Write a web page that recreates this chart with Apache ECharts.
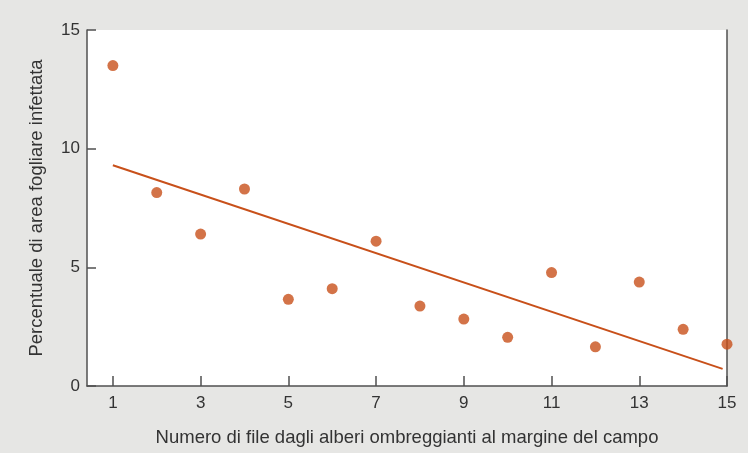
<!DOCTYPE html>
<html><head><meta charset="utf-8">
<script src="https://cdn.jsdelivr.net/npm/echarts@6/dist/echarts.min.js"></script>
<style>html,body{margin:0;padding:0;background:#e6e6e4;}#c{width:748px;height:453px;}</style>
</head><body><div id="c"></div>
<script>
const rows = [1,2,3,4,5,6,7,8,9,10,11,12,13,14,15];
const infected = [13.5,8.15,6.4,8.3,3.65,4.1,6.1,3.37,2.82,2.05,4.78,1.65,4.38,2.39,1.76];
const trendX = [1,14.9];
const trendY = [9.3,0.72];
const xTicks = [1,3,5,7,9,11,13,15];
const yTicks = [0,5,10,15];
const xName = 'Numero di file dagli alberi ombreggianti al margine del campo';
const yName = 'Percentuale di area fogliare infettata';

const font = '"Liberation Sans", Arial, sans-serif';
const axisCol = '#505050';
const txtCol = '#333333';
const orange = '#c8501a';

const chart = echarts.init(document.getElementById('c'));
chart.setOption({
  backgroundColor: '#e6e6e4',
  animation: false,
  grid: {left: 87, right: 21, top: 30, bottom: 67, show: true, backgroundColor: '#ffffff', borderWidth: 0},
  xAxis: {
    type: 'value', min: 0.41, max: 15,
    name: xName, nameLocation: 'middle', nameGap: 42,
    nameTextStyle: {fontFamily: font, fontSize: 18.5, color: txtCol},
    axisLine: {show: true, onZero: false, lineStyle: {color: axisCol, width: 1.5}},
    axisTick: {show: true, inside: true, length: 10, customValues: xTicks, lineStyle: {color: axisCol, width: 1.5}},
    axisLabel: {customValues: xTicks, fontFamily: font, fontSize: 17, color: txtCol, margin: 9},
    splitLine: {show: false}
  },
  yAxis: [{
    type: 'value', min: 0, max: 15, interval: 5,
    name: yName, nameLocation: 'middle', nameGap: 41,
    nameTextStyle: {fontFamily: font, fontSize: 18.5, color: txtCol},
    axisLine: {show: true, lineStyle: {color: axisCol, width: 1.5}},
    axisTick: {show: true, inside: true, length: 9, lineStyle: {color: axisCol, width: 1.5}},
    axisLabel: {customValues: yTicks, fontFamily: font, fontSize: 17, color: txtCol, margin: 7},
    splitLine: {show: false}
  },{
    type: 'value', min: 0, max: 15, position: 'right',
    axisLine: {show: true, lineStyle: {color: axisCol, width: 1.5}},
    axisTick: {show: false}, axisLabel: {show: false}, splitLine: {show: false}
  }],
  series: [{
    type: 'line',
    data: trendX.map((x,i)=>[x,trendY[i]]),
    symbol: 'none',
    lineStyle: {color: orange, width: 2},
    z: 2
  },{
    type: 'scatter',
    data: rows.map((x,i)=>[x,infected[i]]),
    symbolSize: 11,
    itemStyle: {color: orange},
    z: 3
  }]
});
</script></body></html>
